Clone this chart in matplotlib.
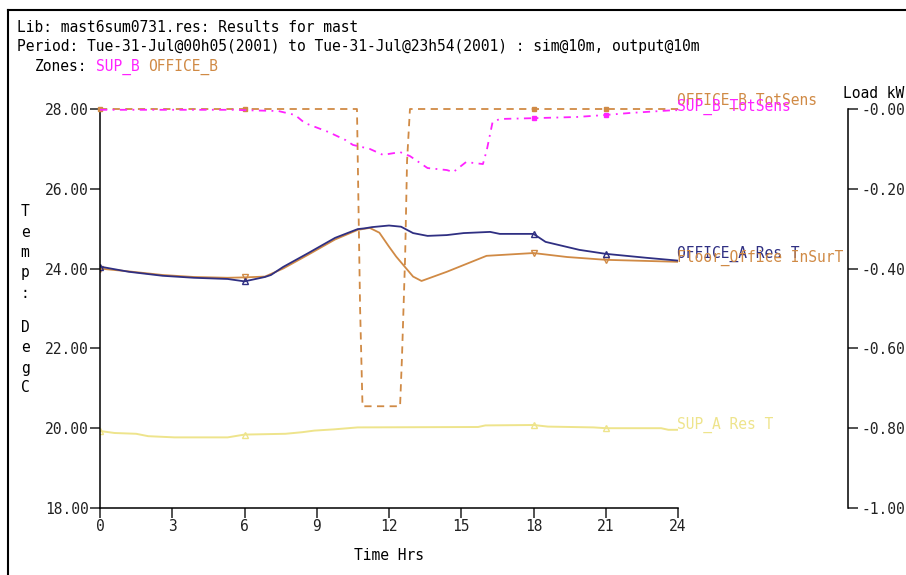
import numpy as np
import matplotlib
matplotlib.use('Agg')
import matplotlib.pyplot as plt
from matplotlib.lines import Line2D

# ---- data ----
hour_ticks = [0, 3, 6, 9, 12, 15, 18, 21, 24]
temp_ticks = [18, 20, 22, 24, 26, 28]
load_ticks = [0.0, -0.2, -0.4, -0.6, -0.8, -1.0]

office_a_t = [0, 1.2, 2.6, 3.9, 5.3, 6.0, 6.85, 7.1, 7.6, 8.65, 9.76, 10.7, 11.0, 11.3, 12.0,
              12.5, 13.0, 13.6, 14.4, 15.1, 16.2, 16.6, 18.0, 18.5, 19.9, 21.0, 22.7, 24.0]
office_a_val = [24.05, 23.92, 23.82, 23.77, 23.74, 23.68, 23.79, 23.84, 24.04, 24.39, 24.77, 24.99, 25.01,
                25.04, 25.08, 25.05, 24.89, 24.82, 24.84, 24.89, 24.92, 24.87, 24.87, 24.67, 24.47,
                24.37, 24.27, 24.2]

floor_t = [0, 1.2, 2.6, 3.9, 5.3, 6.0, 6.85, 7.6, 8.65, 9.76, 10.7, 11.2, 11.6, 12.0, 12.3,
           13.0, 13.35, 14.4, 16.05, 18.0, 19.4, 21.0, 24.0]
floor_val = [24.0, 23.93, 23.84, 23.79, 23.77, 23.78, 23.8, 24.0, 24.35, 24.73, 24.97, 25.02,
             24.9, 24.55, 24.3, 23.8, 23.69, 23.92, 24.32, 24.39, 24.29, 24.22, 24.17]

sup_a_t = [0, 0.6, 1.5, 2.0, 3.1, 5.3, 6.0, 7.7, 8.4, 8.9, 9.7, 10.7, 15.7, 16.0, 18.0,
           18.6, 20.5, 21.0, 23.3, 23.6, 24.0]
sup_a_val = [19.93, 19.88, 19.86, 19.8, 19.77, 19.77, 19.84, 19.86, 19.9, 19.94, 19.97, 20.02,
             20.03, 20.07, 20.08, 20.04, 20.02, 20.0, 20.0, 19.96, 19.96]

office_b_load_t = [0, 6.0, 10.67, 10.8, 10.9, 12.46, 12.54, 12.67, 12.75, 12.87, 18.0, 21.0, 24.0]
office_b_load = [0.0, 0.0, 0.0, -0.5, -0.745, -0.745, -0.62, -0.37, -0.13, 0.0, 0.0, 0.0, 0.0]

sup_b_load_t = [0, 5.6, 6.0, 7.4, 8.1, 8.5, 9.5, 10.2, 10.5, 11.2, 11.75, 12.46, 12.87, 13.6,
                14.4, 14.67, 15.2, 15.9, 16.06, 16.3, 16.6, 18.0, 19.8, 21.0, 22.0, 23.8, 24.0]
sup_b_load = [-0.002, -0.002, -0.003, -0.005, -0.015, -0.035, -0.058, -0.078, -0.09, -0.10, -0.115,
              -0.108, -0.118, -0.148, -0.153, -0.158, -0.133, -0.138, -0.103, -0.033, -0.025,
              -0.023, -0.02, -0.015, -0.01, -0.003, -0.003]

marker_hours = [0, 6, 18, 21]

navy = '#2f2f82'
orange = '#d08a45'
magenta = '#ff22ff'
yellow = '#eee48c'
mono = 'DejaVu Sans Mono'
fs = 10.5

W, H = 906, 575
fig = plt.figure(figsize=(W / 100, H / 100), dpi=100)
plt.rcParams['font.family'] = mono


def px(x, y):
    return x / W, 1 - y / H


def marks(t):
    return [i for i, v in enumerate(t) if v in marker_hours]


ax = fig.add_axes([100 / W, (H - 508) / H, 578 / W, 399 / H])
ax.set_xlim(0, 24)
ax.set_ylim(18, 28)
for s in ['top', 'right']:
    ax.spines[s].set_visible(False)
for s in ['left', 'bottom']:
    ax.spines[s].set_linewidth(1.1)
ax.set_xticks(hour_ticks)
ax.set_xticklabels([str(h) for h in hour_ticks])
ax.set_yticks(temp_ticks)
ax.set_yticklabels(['%.2f' % v for v in temp_ticks])
ax.tick_params(length=7, width=1.1, labelsize=fs, pad=1, colors='#222222')
ax.set_xlabel('Time Hrs', fontsize=fs, labelpad=10)

ax2 = ax.twinx()
ax2.set_ylim(-1, 0)
for s in ['top', 'left', 'bottom']:
    ax2.spines[s].set_visible(False)
ax2.spines['right'].set_position(('axes', (848 - 100) / 578))
ax2.spines['right'].set_linewidth(1.1)
ax2.set_yticks(load_ticks)
ax2.set_yticklabels(['-%.2f' % abs(v) for v in load_ticks])
ax2.tick_params(length=7, width=1.1, labelsize=fs, pad=3, colors='#222222')

# temperature series
ax.plot(sup_a_t, sup_a_val, color=yellow, lw=1.4, marker='^', ms=5, mfc='none',
        markevery=marks(sup_a_t))
ax.plot(floor_t, floor_val, color=orange, lw=1.3, marker='v', ms=5, mfc='none',
        markevery=marks(floor_t))
ax.plot(office_a_t, office_a_val, color=navy, lw=1.3, marker='^', ms=5, mfc='none',
        markevery=marks(office_a_t))

# load series
ax2.plot(office_b_load_t, office_b_load, color=orange, lw=1.3, ls=(0, (4, 3)),
         marker='s', ms=2.5, markevery=marks(office_b_load_t), clip_on=False)
ax2.plot(sup_b_load_t, sup_b_load, color=magenta, lw=1.3, ls=(0, (4, 3, 1, 3)),
         marker='s', ms=2.5, markevery=[i for i, v in enumerate(sup_b_load_t) if v in (18.0, 21.0)],
         clip_on=False)

# end-of-line labels
def tag(a, t, v, label, color, dy):
    a.annotate(label, (t[-1], v[-1]), xytext=(-1, dy), textcoords='offset pixels',
               color=color, fontsize=fs, va='center', ha='left', annotation_clip=False)


tag(ax2, office_b_load_t, office_b_load, 'OFFICE_B TotSens', orange, 8)
tag(ax2, sup_b_load_t, sup_b_load, 'SUP_B TotSens', magenta, 3)
tag(ax, office_a_t, office_a_val, 'OFFICE_A Res T', navy, 7)
tag(ax, floor_t, floor_val, 'Floor_Office InSurT', orange, 4)
tag(ax, sup_a_t, sup_a_val, 'SUP_A Res T', yellow, 5)

# header
cw = 8.74
fig.text(*px(17, 28), 'Lib: mast6sum0731.res: Results for mast', fontsize=fs, va='center')
fig.text(*px(17, 47), 'Period: Tue-31-Jul@00h05(2001) to Tue-31-Jul@23h54(2001) : sim@10m, output@10m',
         fontsize=fs, va='center')
fig.text(*px(17 + 2 * cw, 67), 'Zones:', fontsize=fs, va='center')
fig.text(*px(17 + 9 * cw, 67), 'SUP_B', fontsize=fs, va='center', color=magenta)
fig.text(*px(17 + 15 * cw, 67), 'OFFICE_B', fontsize=fs, va='center', color=orange)

# vertical y label, one letter per line
ylab = [('T', 212), ('e', 233), ('m', 253), ('p', 273), (':', 293),
        ('D', 328), ('e', 348), ('g', 369), ('C', 387)]
for ch, yy in ylab:
    fig.text(*px(25, yy), ch, fontsize=fs, ha='center', va='center')

fig.text(*px(843, 93), 'Load kW', fontsize=fs, va='center')

# window frame
fig.add_artist(Line2D([8 / W, 8 / W], [0, 1 - 10 / H], color='black', lw=1.5))
fig.add_artist(Line2D([8 / W, 1], [1 - 10 / H, 1 - 10 / H], color='black', lw=1.5))

fig.savefig('out.png', dpi=100)
